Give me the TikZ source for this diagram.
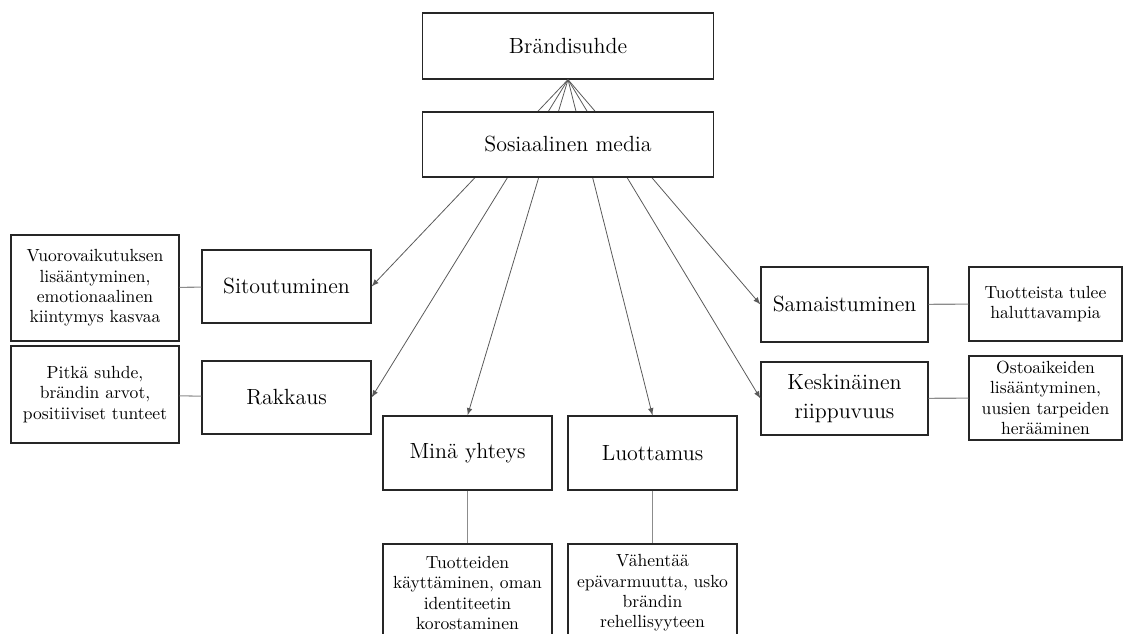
\documentclass[tikz,border=0pt]{standalone}
\usetikzlibrary{shapes}

\begin{document}

\begin{tikzpicture}[x=0.02cm,y=-0.02cm,
                    box/.style= {draw=black!85, line width=0.7pt, fill=white,
                                 inner sep=0pt, align=center},
                    big/.style= {box, font=\fontsize{12.5}{17}\selectfont},
                    small/.style= {box, font=\fontsize{10}{11.5}\selectfont},
                    link/.style= {draw=black!65, line width=0.45pt, -latex},
                    tie/.style= {draw=black!45, line width=0.6pt}]

\useasboundingbox (0,0) rectangle (1124,634);
\clip (0,0) rectangle (1124,634);

\node[big, minimum width=5.82cm, minimum height=1.32cm] (brand) at (568,46) {Brändisuhde};

\node[big, minimum width=3.38cm, minimum height=1.46cm] (sit) at (286.5,286.5) {Sitoutuminen};
\node[big, minimum width=3.38cm, minimum height=1.46cm] (rak) at (286.5,397.5) {Rakkaus};
\node[big, minimum width=3.38cm, minimum height=1.48cm] (mina) at (467.5,453) {Minä yhteys};
\node[big, minimum width=3.38cm, minimum height=1.48cm] (luot) at (652.5,453) {Luottamus};
\node[big, minimum width=3.34cm, minimum height=1.5cm] (sama) at (844.5,304.5) {Samaistuminen};
\node[big, minimum width=3.34cm, minimum height=1.46cm] (kesk) at (844.5,398.5) {Keskinäinen\\riippuvuus};

\node[small, minimum width=3.36cm, minimum height=2.12cm] (vuoro) at (95,288)
  {Vuorovaikutuksen\\lisääntyminen,\\emotionaalinen\\kiintymys kasvaa};
\node[small, minimum width=3.36cm, minimum height=1.94cm] (pitka) at (95,394.5)
  {Pitkä suhde,\\brändin arvot,\\positiiviset tunteet};
\node[small, minimum width=3.38cm, minimum height=1.96cm] (tuot) at (467.5,593)
  {Tuotteiden\\käyttäminen, oman\\identiteetin\\korostaminen};
\node[small, minimum width=3.38cm, minimum height=1.96cm] (vahe) at (652.5,593)
  {Vähentää\\epävarmuutta, usko\\brändin\\rehellisyyteen};
\node[small, minimum width=3.06cm, minimum height=1.48cm] (halu) at (1045.5,304)
  {Tuotteista tulee\\haluttavampia};
\node[small, minimum width=3.06cm, minimum height=1.68cm] (osto) at (1045.5,398)
  {Ostoaikeiden\\lisääntyminen,\\uusien tarpeiden\\herääminen};

% arrows run behind the media box
\draw[link] (brand.south) -- (sit.east);
\draw[link] (brand.south) -- (rak.east);
\draw[link] (brand.south) -- (mina.north);
\draw[link] (brand.south) -- (luot.north);
\draw[link] (brand.south) -- (sama.west);
\draw[link] (brand.south) -- (kesk.west);

\node[big, minimum width=5.82cm, minimum height=1.3cm] (some) at (568,144.5) {Sosiaalinen media};

\draw[tie] (vuoro) -- (sit);
\draw[tie] (pitka) -- (rak);
\draw[tie] (mina) -- (tuot);
\draw[tie] (luot) -- (vahe);
\draw[tie] (sama) -- (halu);
\draw[tie] (kesk) -- (osto);

\end{tikzpicture}

\end{document}
